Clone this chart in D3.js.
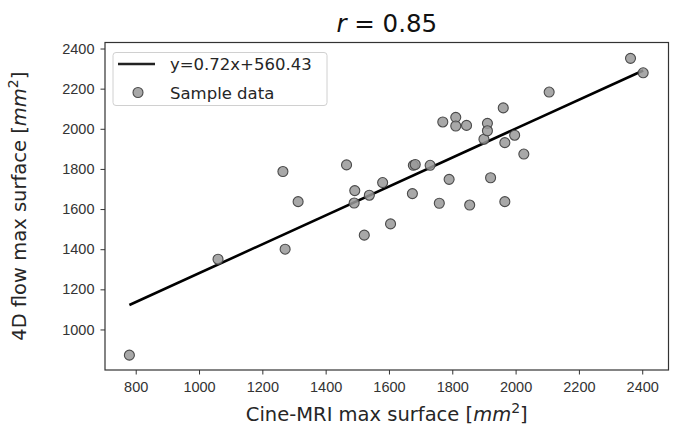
<!DOCTYPE html>
<html>
<head>
<meta charset="utf-8">
<script src="https://cdn.jsdelivr.net/npm/d3@7"></script>
<style>
  body { margin: 0; background: #fff; }
  svg { font-family: "DejaVu Sans", sans-serif; }
</style>
</head>
<body>
<svg id="chart"></svg>
<script>
// cine-MRI vs 4D flow max surface (mm^2)
const cineX = [780, 1060, 1272, 1265, 1313, 1466, 1492, 1490, 1522, 1538, 1580, 1605, 1674, 1677, 1683,
  1730, 1759, 1770, 1790, 1811, 1811, 1845, 1855, 1900, 1911, 1911, 1921, 1961, 1966, 1966, 1997, 2026,
  2106, 2363, 2403];
const flowY = [872, 1350, 1400, 1787, 1637, 1820, 1692, 1630, 1470, 1669, 1732, 1526, 1677, 1818, 1822,
  1818, 1629, 2034, 1748, 2057, 2014, 2017, 1620, 1948, 2027, 1990, 1756, 2104, 1931, 1637, 1968, 1874,
  2183, 2351, 2279];

const slope = 0.72;
const intercept = 560.43;
const rValue = '0.85';

const xTicks = [800, 1000, 1200, 1400, 1600, 1800, 2000, 2200, 2400];
const yTicks = [1000, 1200, 1400, 1600, 1800, 2000, 2200, 2400];

let width = 678;
let height = 433;
let margin = { top: 42.5, right: 9.5, bottom: 63, left: 105 };

let svg = d3.select('#chart').attr('width', width).attr('height', height);

let xScale = d3.scaleLinear()
  .domain([703, 2483])
  .range([margin.left, width - margin.right]);

let yScale = d3.scaleLinear()
  .domain([798, 2430])
  .range([height - margin.bottom, margin.top]);

const points = cineX.map((x, i) => ({ x: x, y: flowY[i] }));

// axes
let xAxis = d3.axisBottom(xScale).tickValues(xTicks).tickSize(4.5).tickPadding(7).tickFormat(d3.format('d'));
let yAxis = d3.axisLeft(yScale).tickValues(yTicks).tickSize(4.5).tickPadding(6).tickFormat(d3.format('d'));

let gx = svg.append('g')
  .attr('transform', 'translate(0,' + (height - margin.bottom) + ')')
  .call(xAxis);
let gy = svg.append('g')
  .attr('transform', 'translate(' + margin.left + ',0)')
  .call(yAxis);

[gx, gy].forEach(g => {
  g.select('.domain').remove();
  g.selectAll('.tick line').attr('stroke', '#333').attr('stroke-width', 1);
  g.selectAll('.tick text').attr('fill', '#333').style('font-size', '14.5px');
});

// frame
svg.append('rect')
  .attr('x', margin.left)
  .attr('y', margin.top)
  .attr('width', width - margin.left - margin.right)
  .attr('height', height - margin.top - margin.bottom)
  .attr('fill', 'none')
  .attr('stroke', '#333')
  .attr('stroke-width', 1.2);

// fit line
const xMin = d3.min(cineX), xMax = d3.max(cineX);
svg.append('line')
  .attr('x1', xScale(xMin))
  .attr('y1', yScale(slope * xMin + intercept))
  .attr('x2', xScale(xMax))
  .attr('y2', yScale(slope * xMax + intercept))
  .attr('stroke', '#000')
  .attr('stroke-width', 2.6);

// scatter
svg.selectAll('circle.dot')
  .data(points)
  .enter()
  .append('circle')
  .attr('class', 'dot')
  .attr('cx', d => xScale(d.x))
  .attr('cy', d => yScale(d.y))
  .attr('r', 5)
  .attr('fill', '#999')
  .attr('fill-opacity', 0.85)
  .attr('stroke', '#4a4a4a')
  .attr('stroke-width', 1.1);

// title
let title = svg.append('text')
  .attr('x', (margin.left + width - margin.right) / 2)
  .attr('y', 32)
  .attr('text-anchor', 'middle')
  .attr('fill', '#111')
  .style('font-size', '24.5px');
title.append('tspan').attr('font-style', 'italic').text('r');
title.append('tspan').text(' = ' + rValue);

// axis labels
const addLabel = (sel, prefix) => {
  sel.append('tspan').text(prefix + ' [');
  sel.append('tspan').attr('font-style', 'italic').text('mm');
  sel.append('tspan').attr('dy', -8).style('font-size', '14px').text('2');
  sel.append('tspan').attr('dy', 8).text(']');
};

let xLabel = svg.append('text')
  .attr('x', (margin.left + width - margin.right) / 2)
  .attr('y', 421)
  .attr('text-anchor', 'middle')
  .attr('fill', '#262626')
  .style('font-size', '19.5px');
addLabel(xLabel, 'Cine-MRI max surface');

let yLabel = svg.append('text')
  .attr('transform', 'translate(26,' + ((margin.top + height - margin.bottom) / 2) + ') rotate(-90)')
  .attr('text-anchor', 'middle')
  .attr('fill', '#262626')
  .style('font-size', '19.5px');
addLabel(yLabel, '4D flow max surface');

// legend
let legend = svg.append('g');
legend.append('rect')
  .attr('x', 113).attr('y', 52.5)
  .attr('width', 214).attr('height', 53)
  .attr('rx', 3)
  .attr('fill', '#fff')
  .attr('fill-opacity', 0.8)
  .attr('stroke', '#d0d0d0');
legend.append('line')
  .attr('x1', 118).attr('x2', 155)
  .attr('y1', 64).attr('y2', 64)
  .attr('stroke', '#222').attr('stroke-width', 2.6);
legend.append('circle')
  .attr('cx', 138).attr('cy', 92.5).attr('r', 5)
  .attr('fill', '#999').attr('fill-opacity', 0.85)
  .attr('stroke', '#4a4a4a').attr('stroke-width', 1.1);
legend.append('text')
  .attr('x', 170).attr('y', 70)
  .attr('fill', '#262626')
  .style('font-size', '16.5px')
  .text('y=' + slope + 'x+' + intercept);
legend.append('text')
  .attr('x', 170).attr('y', 98.5)
  .attr('fill', '#262626')
  .style('font-size', '16.5px')
  .text('Sample data');
</script>
</body>
</html>
